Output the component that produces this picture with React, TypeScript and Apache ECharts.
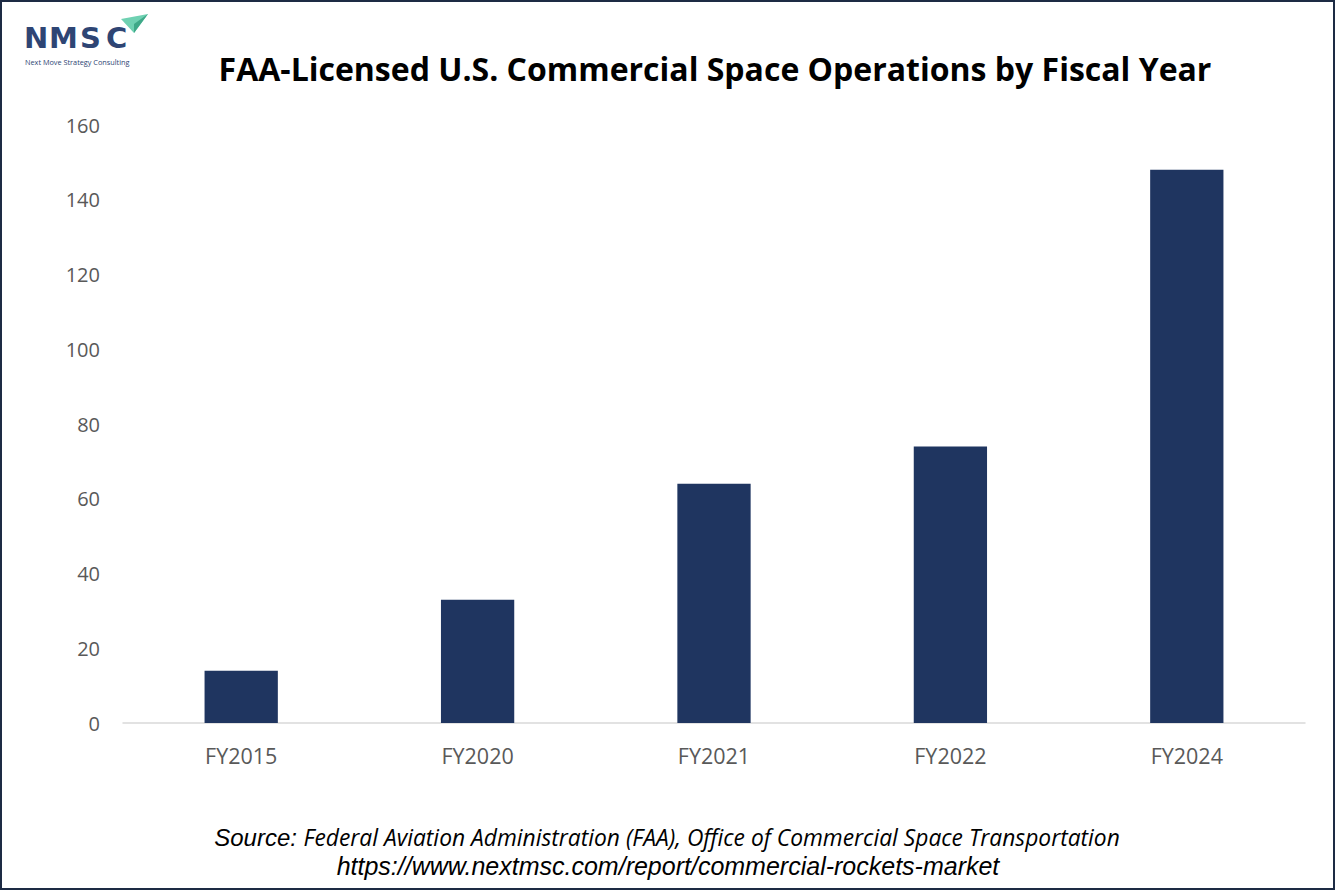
import React, { useEffect, useRef } from "react";
import * as echarts from "echarts";

const categories = ["FY2015", "FY2020", "FY2021", "FY2022", "FY2024"];
const operations = [14, 33, 64, 74, 148];
const yTicks = { min: 0, max: 160, interval: 20 };
const titleText = "FAA-Licensed U.S. Commercial Space Operations by Fiscal Year";
const sourceLine1 = "Federal Aviation Administration (FAA), Office of Commercial Space Transportation";
const sourceLine2 = "https://www.nextmsc.com/report/commercial-rockets-market";
const logoLetters = ["N", "M", "S", "C"];
const logoLetterX = [24, 49, 80, 106];

export default function App() {
  const ref = useRef<HTMLDivElement>(null);
  useEffect(() => {
    document.body.style.margin = "0";
    const chart = echarts.init(ref.current!, null, { renderer: "svg" });
    chart.setOption({
      animation: false,
      backgroundColor: "#ffffff",
      title: {
        text: titleText,
        left: 710,
        top: 47,
        textAlign: "center",
        textStyle: {
          fontFamily: "Open Sans",
          fontWeight: "bold",
          fontSize: 32,
          color: "#000000",
        },
      },
      grid: { left: 123, right: 30, top: 125, bottom: 167 },
      xAxis: {
        type: "category",
        data: categories,
        axisLine: { lineStyle: { color: "#d9d9d9", width: 1.5 } },
        axisTick: { show: false },
        axisLabel: {
          fontFamily: "Open Sans",
          fontSize: 21.5,
          color: "#595959",
          margin: 21,
        },
      },
      yAxis: {
        type: "value",
        min: yTicks.min,
        max: yTicks.max,
        interval: yTicks.interval,
        splitLine: { show: false },
        axisLine: { show: false },
        axisTick: { show: false },
        axisLabel: {
          fontFamily: "Open Sans",
          fontSize: 20,
          color: "#595959",
          margin: 23,
        },
      },
      series: [
        {
          type: "bar",
          data: operations,
          barWidth: "31%",
          itemStyle: { color: "#1f3560" },
        },
      ],
      graphic: [
        {
          type: "rect",
          shape: { x: 1, y: 1, width: 1333, height: 888 },
          style: { fill: "none", stroke: "#1d2b44", lineWidth: 2 },
          silent: true,
        },
        ...logoLetters.map((ch, i) => ({
          type: "text",
          x: logoLetterX[i],
          y: 23,
          style: {
            text: ch,
            fontFamily: "DejaVu Sans",
            fontWeight: "bold",
            fontSize: 29,
            fill: "#2e4574",
          },
        })),
        {
          type: "text",
          x: 25,
          y: 58,
          style: {
            text: "Next Move Strategy Consulting",
            fontFamily: "Open Sans",
            fontSize: 7.3,
            fill: "#2e4574",
          },
        },
        {
          type: "polygon",
          shape: { points: [[121, 19], [148, 14], [134, 33]] },
          style: { fill: "#6fd1b2" },
        },
        {
          type: "polygon",
          shape: { points: [[134, 24], [148, 14], [134, 33]] },
          style: { fill: "#3fa888" },
        },
        {
          type: "text",
          x: 667,
          y: 837,
          style: {
            text: "{a|Source: }{b|" + sourceLine1 + "}",
            align: "center",
            verticalAlign: "middle",
            rich: {
              a: { fontFamily: "Liberation Sans", fontStyle: "italic", fontSize: 24, fill: "#000" },
              b: { fontFamily: "Open Sans", fontStyle: "italic", fontSize: 22.8, fill: "#000" },
            },
          },
        },
        {
          type: "text",
          x: 668,
          y: 866,
          style: {
            text: sourceLine2,
            align: "center",
            verticalAlign: "middle",
            fontFamily: "Liberation Sans",
            fontStyle: "italic",
            fontSize: 25,
            fill: "#000",
          },
        },
      ],
    });
    return () => chart.dispose();
  }, []);
  return <div ref={ref} style={{ width: 1335, height: 890 }} />;
}
